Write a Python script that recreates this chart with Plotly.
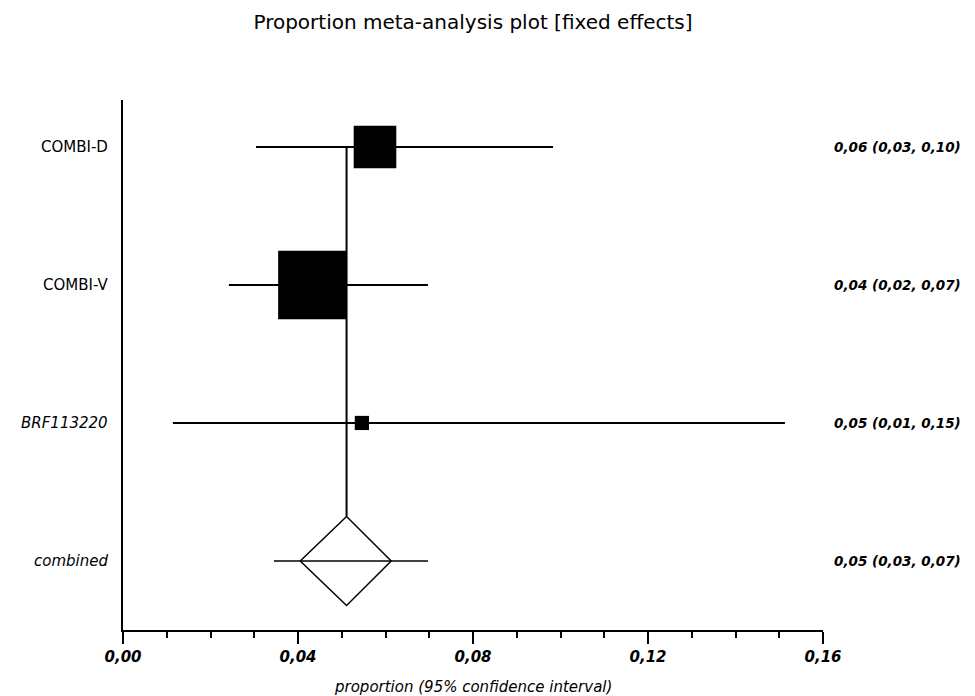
import plotly.graph_objects as go

# ---- data ----
studies = ["COMBI-D", "COMBI-V", "BRF113220"]
study_est = [0.0576, 0.0433, 0.0546]
study_lo = [0.0304, 0.0242, 0.0114]
study_hi = [0.0983, 0.0697, 0.1513]
study_weight = [0.27, 0.70, 0.03]

combined_label = "combined"
combined_est = 0.0511
combined_lo = 0.0345
combined_hi = 0.0697
combined_diamond_lo = 0.0405
combined_diamond_hi = 0.0613

x_ticks = [0.00, 0.04, 0.08, 0.12, 0.16]

title = "Proportion meta-analysis plot [fixed effects]"
x_title = "proportion (95% confidence interval)"

# ---- styling ----
FONT = "DejaVu Sans, Liberation Sans, Arial"
ypos = [3, 2, 1]
y_comb = 0
dh = 0.322  # diamond half height (axis units)
label_italic = [False, False, True, True]

def fmt(v):
    return f"{v:.2f}".replace(".", ",")

fig = go.Figure()

# vertical line at combined estimate
fig.add_trace(go.Scatter(x=[combined_est, combined_est], y=[ypos[0], y_comb + dh],
                         mode="lines", line=dict(color="black", width=2), hoverinfo="skip"))

# CI lines
for lo, hi, y in zip(study_lo, study_hi, ypos):
    fig.add_trace(go.Scatter(x=[lo, hi], y=[y, y], mode="lines",
                             line=dict(color="black", width=2), hoverinfo="skip"))

# squares (area proportional to weight)
sizes = [82 * w ** 0.5 for w in study_weight]
fig.add_trace(go.Scatter(x=study_est, y=ypos, mode="markers",
                         marker=dict(symbol="square", size=sizes, color="black",
                                     opacity=1, line=dict(width=0))))

# combined diamond
fig.add_trace(go.Scatter(x=[combined_diamond_lo, combined_est, combined_diamond_hi, combined_est, combined_diamond_lo],
                         y=[y_comb, y_comb + dh, y_comb, y_comb - dh, y_comb],
                         mode="lines", fill="toself", fillcolor="white",
                         line=dict(color="black", width=1.5)))
fig.add_trace(go.Scatter(x=[combined_lo, combined_hi], y=[y_comb, y_comb], mode="lines",
                         line=dict(color="black", width=1.5)))

labels = studies + [combined_label]
ests = study_est + [combined_est]
los = study_lo + [combined_lo]
his = study_hi + [combined_hi]
ys = ypos + [y_comb]
anns = []
for lab, e, lo, hi, y, it in zip(labels, ests, los, his, ys, label_italic):
    anns.append(dict(x=-0.018, xref="paper", y=y, yref="y", text=(f"<i>{lab}</i>" if it else lab),
                     showarrow=False, xanchor="right",
                     font=dict(family=FONT, size=15, color="black")))
    anns.append(dict(x=1.013, xref="paper", y=y, yref="y",
                     text=f"<i><b>{fmt(e)} ({fmt(lo)}, {fmt(hi)})</b></i>",
                     showarrow=False, xanchor="left",
                     font=dict(family=FONT, size=13.5, color="black")))
anns.append(dict(x=0.5, xref="paper", y=-0.086, yref="paper", text=f"<i>{x_title}</i>",
                 showarrow=False, xanchor="center", yanchor="top",
                 font=dict(family=FONT, size=15, color="black")))

fig.update_layout(
    width=975, height=696,
    margin=dict(l=123, r=152, t=100, b=66),
    paper_bgcolor="white", plot_bgcolor="white",
    showlegend=False,
    separators=",.",
    title=dict(text=title, x=0.5, xref="paper", xanchor="center", y=0.968, yanchor="middle",
               font=dict(family=FONT, size=20, color="black")),
    annotations=anns,
    xaxis=dict(range=[0, 0.16], tickvals=x_ticks, tickformat=".2f",
               showgrid=False, zeroline=False, showline=True, linecolor="black", linewidth=2,
               ticks="outside", ticklen=12, tickwidth=2, tickcolor="black",
               minor=dict(dtick=0.01, ticks="outside", ticklen=6, tickwidth=2, tickcolor="black"),
               tickfont=dict(family=FONT, size=15, color="black",
                             style="italic", weight="bold"),
               fixedrange=True),
    yaxis=dict(range=[-0.5, 3.34], showgrid=False, zeroline=False, showline=True,
               linecolor="black", linewidth=2, showticklabels=False, ticks="",
               fixedrange=True),
)

fig.write_html("out.html")
